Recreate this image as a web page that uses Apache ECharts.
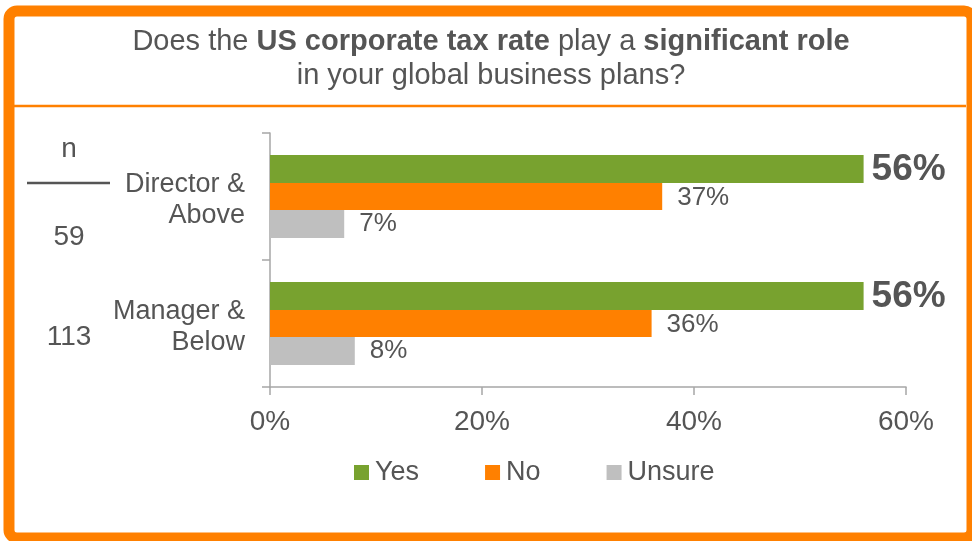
<!DOCTYPE html>
<html>
<head>
<meta charset="utf-8">
<script src="https://cdn.jsdelivr.net/npm/echarts@6/dist/echarts.min.js"></script>
<style>
  html, body { margin: 0; padding: 0; background: #ffffff; }
  #chart { width: 972px; height: 541px; }
</style>
</head>
<body>
<div id="chart"></div>
<script>
// Survey groups and answer shares (%)
const categories = ['Director &\nAbove', 'Manager &\nBelow'];
const yesShare = [56, 56];
const noShare = [37, 36];
const unsureShare = [7, 8];
const sampleSizes = [59, 113];
const seriesNames = ['Yes', 'No', 'Unsure'];
const xTickValues = [0, 20, 40, 60];

const FONT = '"Liberation Sans", Arial, sans-serif';
const TEXT = '#555555';
const ORANGE = '#FF8000';
const GREEN = '#78A22F';
const GREY = '#BFBFBF';
const AXIS = '#A6A6A6';

const chart = echarts.init(document.getElementById('chart'), null, { renderer: 'canvas' });

function pctLabel(size, bold, dist, dy) {
  return {
    show: true,
    position: 'right',
    distance: dist,
    offset: [0, dy],
    formatter: '{c}%',
    fontFamily: FONT,
    fontSize: size,
    fontWeight: bold ? 'bold' : 'normal',
    color: TEXT
  };
}

function plainText(x, y, text, size) {
  return {
    type: 'text', silent: true, x: x, y: y,
    style: { text: text, align: 'center', verticalAlign: 'middle', fontFamily: FONT, fontSize: size, fill: TEXT }
  };
}

const option = {
  animation: false,
  backgroundColor: '#ffffff',
  textStyle: { fontFamily: FONT },
  grid: { left: 270, right: 66, top: 133, bottom: 154, containLabel: false },
  legend: {
    data: seriesNames,
    left: 349,
    top: 454,
    itemWidth: 15,
    itemHeight: 15,
    itemGap: 66,
    icon: 'rect',
    textStyle: { fontFamily: FONT, fontSize: 27, color: TEXT, padding: [0, 0, 0, 1] }
  },
  xAxis: {
    type: 'value',
    min: xTickValues[0],
    max: xTickValues[xTickValues.length - 1],
    interval: xTickValues[1] - xTickValues[0],
    axisLine: { show: true, lineStyle: { color: AXIS, width: 1.5 } },
    axisTick: { show: true, length: 8, lineStyle: { color: AXIS, width: 1.5 } },
    splitLine: { show: false },
    axisLabel: {
      formatter: '{value}%',
      fontFamily: FONT,
      fontSize: 28,
      color: TEXT,
      margin: 21
    }
  },
  yAxis: {
    type: 'category',
    data: categories,
    inverse: true,
    axisLine: { show: true, lineStyle: { color: AXIS, width: 1.5 } },
    axisTick: { show: true, length: 8, lineStyle: { color: AXIS, width: 1.5 } },
    axisLabel: {
      margin: 25,
      align: 'right',
      // a thin spacer line above the two text lines nudges the block down a little
      formatter: function (value) {
        return '{s| }\n' + value.split('\n').map(function (line) { return '{t|' + line + '}'; }).join('\n');
      },
      rich: {
        s: { fontSize: 1, lineHeight: 8 },
        t: { fontFamily: FONT, fontSize: 27, lineHeight: 31, color: TEXT, align: 'right' }
      }
    }
  },
  series: [
    {
      name: seriesNames[0], type: 'bar', data: yesShare,
      barWidth: 28, barGap: '0%',
      itemStyle: { color: GREEN },
      label: pctLabel(37, true, 8, 1)
    },
    {
      name: seriesNames[1], type: 'bar', data: noShare,
      barWidth: 27, barGap: '0%',
      itemStyle: { color: ORANGE },
      label: pctLabel(26, false, 15, 1)
    },
    {
      name: seriesNames[2], type: 'bar', data: unsureShare,
      barWidth: 28, barGap: '0%',
      itemStyle: { color: GREY },
      label: pctLabel(26, false, 15, 0)
    }
  ],
  graphic: [
    // orange frame and title divider
    {
      type: 'rect', z: 100, silent: true,
      shape: { x: 9, y: 11, width: 963, height: 527, r: 8 },
      style: { fill: 'none', stroke: ORANGE, lineWidth: 11 }
    },
    {
      type: 'line', z: 100, silent: true,
      shape: { x1: 14, y1: 106, x2: 966, y2: 106 },
      style: { stroke: ORANGE, lineWidth: 2.5 }
    },
    // title with bold emphasis
    {
      type: 'text', z: 100, silent: true,
      x: 491, y: 42,
      style: {
        text: '{n|Does the }{b|US corporate tax rate}{n| play a }{b|significant role}',
        align: 'center', verticalAlign: 'middle',
        rich: {
          n: { fontFamily: FONT, fontSize: 29, fill: TEXT },
          b: { fontFamily: FONT, fontSize: 29, fontWeight: 'bold', fill: TEXT }
        }
      }
    },
    plainText(491, 76, 'in your global business plans?', 29),
    // sample size column
    plainText(69, 149, 'n', 28),
    {
      type: 'line', silent: true,
      shape: { x1: 27, y1: 183, x2: 110, y2: 183 },
      style: { stroke: TEXT, lineWidth: 2.5 }
    },
    plainText(69, 237, String(sampleSizes[0]), 28),
    plainText(69, 337, String(sampleSizes[1]), 28)
  ]
};

chart.setOption(option);
</script>
</body>
</html>
